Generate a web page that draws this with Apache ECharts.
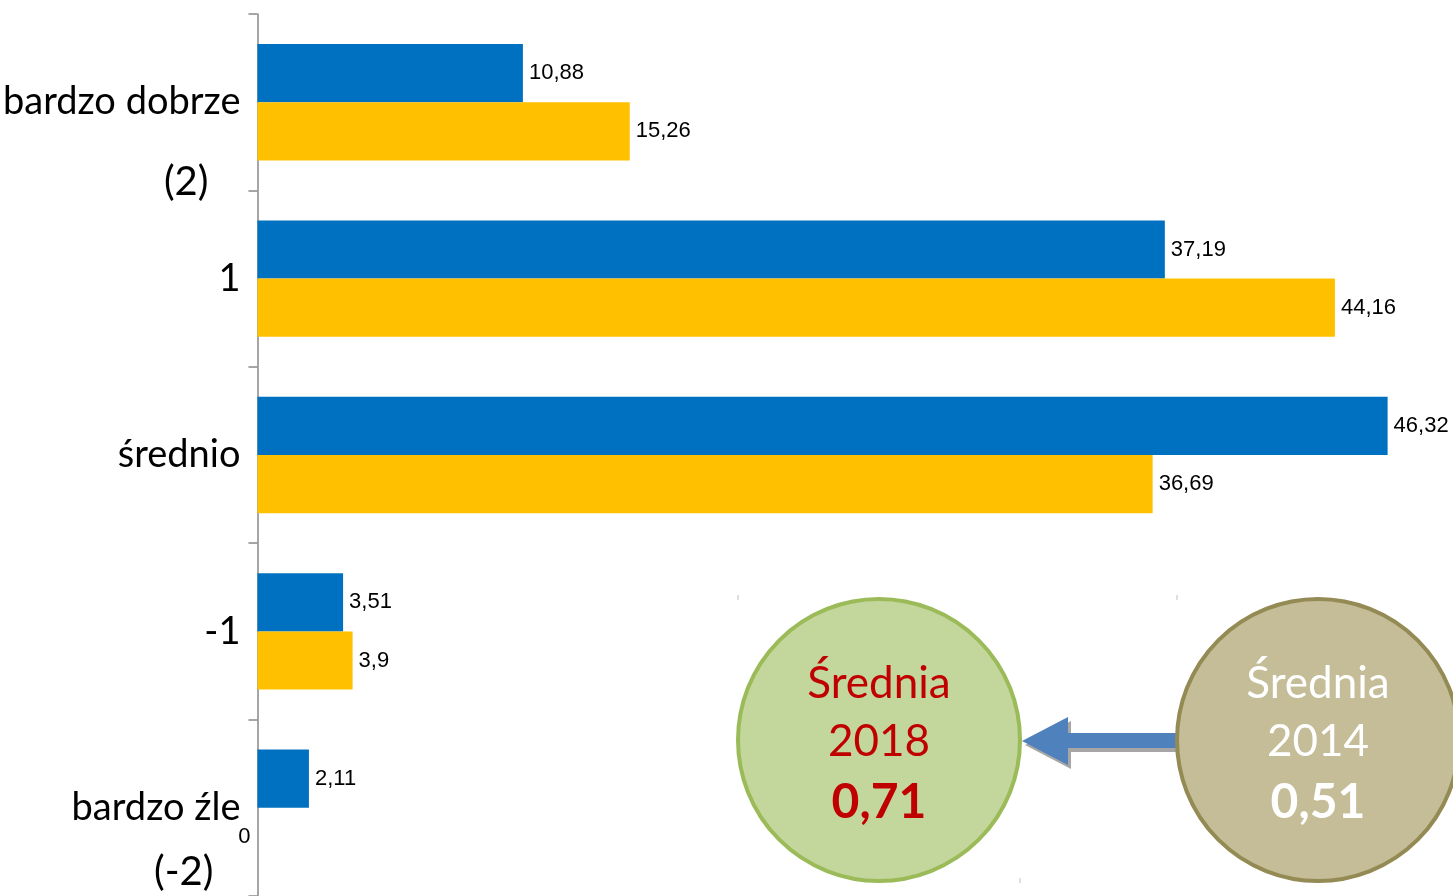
<!DOCTYPE html>
<html>
<head>
<meta charset="utf-8">
<script src="https://cdn.jsdelivr.net/npm/echarts@6/dist/echarts.min.js"></script>
<style>
  html, body { margin: 0; padding: 0; background: #fff; }
  #chart { width: 1453px; height: 896px; }
</style>
</head>
<body>
<div id="chart"></div>
<script>
// oceny (kategorie od góry)
var categories = ['bardzo dobrze\n(2)', '1', 'średnio', '-1', 'bardzo źle\n(-2)'];
var values2018 = [10.88, 37.19, 46.32, 3.51, 2.11];
var values2014 = [15.26, 44.16, 36.69, 3.9, 0];
var avgLabel = 'Średnia';
var avgYears = ['2018', '2014'];
var avgValues = ['0,71', '0,51'];

var chart = echarts.init(document.getElementById('chart'));

function fmt(v) {
    return String(v).replace('.', ',');
}

var labelFont = 'Lato, "Open Sans", sans-serif';
var numFont = '"Liberation Sans", Arial, sans-serif';

var barLabel = {
    show: true,
    position: 'right',
    distance: 6,
    color: '#000',
    fontFamily: numFont,
    fontSize: 22,
    formatter: function (p) { return fmt(p.value); }
};

// zero bar has its label on the left of the axis
var data2014 = values2014.map(function (v) {
    if (v === 0) {
        return { value: v, label: { position: 'left', distance: 7 } };
    }
    return v;
});

function circleGroup(cx, cy, fill, stroke, color, year, val) {
    return {
        type: 'group',
        children: [
            {
                type: 'circle',
                shape: { cx: cx, cy: cy, r: 141 },
                style: { fill: fill, stroke: stroke, lineWidth: 4 },
                z: 10
            },
            {
                type: 'text',
                x: cx, y: cy - 56,
                style: { text: avgLabel, fill: color, font: '44px ' + labelFont, align: 'center', verticalAlign: 'middle' },
                z: 11
            },
            {
                type: 'text',
                x: cx, y: cy + 2,
                style: { text: year, fill: color, font: '44px ' + labelFont, align: 'center', verticalAlign: 'middle' },
                z: 11
            },
            {
                type: 'text',
                x: cx, y: cy + 63,
                style: { text: val, fill: color, font: 'bold 48px ' + labelFont, align: 'center', verticalAlign: 'middle' },
                z: 11
            }
        ]
    };
}

var arrowPts = [[1022, 741], [1068, 717], [1068, 733], [1178, 733], [1178, 748], [1068, 748], [1068, 765]];

function mark(x, y) {
    return { type: 'line', shape: { x1: x, y1: y, x2: x, y2: y + 5 }, style: { stroke: '#BFBFBF', lineWidth: 1 }, z: 4 };
}

chart.setOption({
    animation: false,
    grid: { left: 257, top: 14, width: 1196, height: 885 },
    xAxis: {
        type: 'value',
        min: 0,
        max: 49,
        show: false,
        splitLine: { show: false }
    },
    yAxis: {
        type: 'category',
        inverse: true,
        data: categories,
        axisLine: { show: true, lineStyle: { color: '#898989', width: 1.5 } },
        axisTick: { show: true, length: 9, lineStyle: { color: '#898989', width: 1.5 } },
        axisLabel: {
            margin: 17,
            color: '#000',
            fontFamily: labelFont,
            fontSize: 38,
            formatter: function (v, i) {
                var parts = v.split('\n');
                if (parts.length === 1) return '{a|' + v + '}';
                var k = i === 0 ? '1' : '2';
                return '{s' + k + '| }\n{a' + k + '|' + parts[0] + '}\n{b' + k + '|' + parts[1] + '}';
            },
            rich: {
                a: { fontSize: 38, fontFamily: labelFont, color: '#000' },
                s1: { fontSize: 10, lineHeight: 80 },
                a1: { fontSize: 38, fontFamily: labelFont, color: '#000', lineHeight: 80 },
                b1: { fontSize: 40, fontFamily: labelFont, color: '#000', lineHeight: 80, padding: [0, 32, 0, 0] },
                s2: { fontSize: 10, lineHeight: 64 },
                a2: { fontSize: 38, fontFamily: labelFont, color: '#000', lineHeight: 64 },
                b2: { fontSize: 40, fontFamily: labelFont, color: '#000', lineHeight: 64, padding: [0, 27, 0, 0] }
            }
        }
    },
    series: [
        {
            name: '2018',
            type: 'bar',
            data: values2018,
            barGap: '0%',
            barCategoryGap: '34%',
            itemStyle: { color: '#0070C0' },
            label: barLabel
        },
        {
            name: '2014',
            type: 'bar',
            data: data2014,
            barGap: '0%',
            barCategoryGap: '34%',
            itemStyle: { color: '#FFC000' },
            label: barLabel
        }
    ],
    graphic: [
        mark(738, 595),
        mark(1177, 595),
        mark(1020, 878),
        {
            type: 'polygon',
            shape: { points: arrowPts.map(function (p) { return [p[0] + 3, p[1] + 4]; }) },
            style: { fill: '#A6A6A6' },
            z: 5
        },
        {
            type: 'polygon',
            shape: { points: arrowPts },
            style: { fill: '#4F81BD' },
            z: 6
        },
        circleGroup(879, 740, '#C3D69B', '#9BBB59', '#C00000', avgYears[0], avgValues[0]),
        circleGroup(1318, 740, '#C4BD97', '#948A54', '#FFFFFF', avgYears[1], avgValues[1])
    ]
});
</script>
</body>
</html>
